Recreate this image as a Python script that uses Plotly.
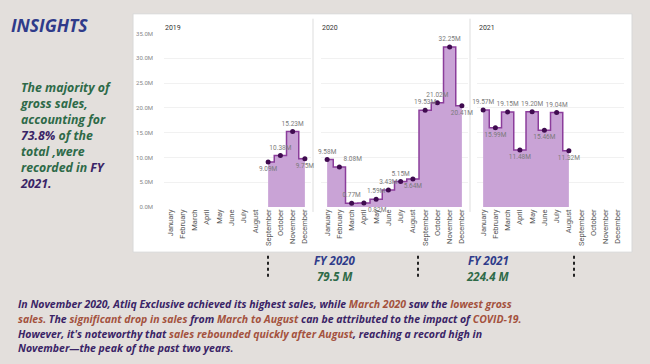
import plotly.graph_objects as go

months = ["January", "February", "March", "April", "May", "June", "July",
          "August", "September", "October", "November", "December"]

months_2019 = ["September", "October", "November", "December"]
sales_2019 = [9.09, 10.38, 15.23, 9.75]
pos_2019 = ["bottom center", "top center", "top center", "bottom center"]

months_2020 = months
sales_2020 = [9.58, 8.08, 0.77, 0.82, 1.59, 3.43, 5.15, 5.64, 19.53, 21.02, 32.25, 20.41]
pos_2020 = ["top center", "top right", "top center", "bottom right", "top center", "top center",
            "top center", "bottom center", "top center", "top center", "top center", "bottom center"]

months_2021 = months[:8]
sales_2021 = [19.57, 15.99, 19.15, 11.48, 19.20, 15.46, 19.04, 11.32]
pos_2021 = ["top center", "bottom center", "top center", "bottom center",
            "top center", "bottom center", "top center", "bottom center"]

years = ["2019", "2020", "2021"]
fy_labels = ["FY 2020", "FY 2021"]
fy_totals = ["79.5 M", "224.4 M"]

W, H = 650, 364
def px(x): return x / W
def py(y): return 1 - y / H

BG = "#e3dfdc"
NAVY = "#2f3b8a"
GREEN = "#2e6a48"
TXT_NAVY = "#3a2466"
RUST = "#a4523e"
FILL = "#c9a3d6"
LINE = "#8b3d9b"
MARK = "#3f0b4f"

fig = go.Figure()

series = [(months_2019, sales_2019, pos_2019, "x", "y"),
          (months_2020, sales_2020, pos_2020, "x2", "y2"),
          (months_2021, sales_2021, pos_2021, "x3", "y3")]
for mx, vals, pos, xa, ya in series:
    fig.add_trace(go.Scatter(
        x=mx, y=vals, xaxis=xa, yaxis=ya,
        mode="lines+markers+text",
        line=dict(shape="hvh", color=LINE, width=1.5),
        fill="tozeroy", fillcolor=FILL,
        marker=dict(size=5, color=MARK),
        text=[f"{v:.2f}M" for v in vals], textposition=pos,
        textfont=dict(size=6.5, color="#7a7a7a", family="Roboto"),
        cliponaxis=False, showlegend=False, hoverinfo="skip"))

ydom = [py(207), py(30)]
xdoms = [[px(164), px(311)], [px(321), px(468)], [px(477), px(624)]]

common_x = dict(type="category", categoryorder="array", categoryarray=months,
                range=[-0.5, 11.5], tickangle=-90, showgrid=False, zeroline=False,
                showline=False, ticks="",
                tickfont=dict(size=7.5, color="#555555", family="Roboto"))
common_y = dict(range=[0, 35], showgrid=True, gridcolor="#f1f1f1", gridwidth=1,
                zeroline=False, showline=False, dtick=5, domain=ydom)

layout_axes = {}
for i, dom in enumerate(xdoms):
    k = "" if i == 0 else str(i + 1)
    layout_axes["xaxis" + k] = dict(common_x, domain=dom, anchor="y" + k)
    ya = dict(common_y, anchor="x" + k)
    if i == 0:
        ya.update(tickformat=".1f", ticksuffix="M", ticklabelstandoff=10,
                  tickfont=dict(size=6, color="#888888", family="Roboto"))
    else:
        ya.update(showticklabels=False, matches="y")
    layout_axes["yaxis" + k] = ya

shapes = [
    dict(type="rect", xref="paper", yref="paper", x0=px(133), x1=px(632), y0=py(253), y1=py(10),
         fillcolor="white", line=dict(color="#d8d8d8", width=1), layer="below"),
    dict(type="line", xref="paper", yref="paper", x0=px(313), x1=px(313), y0=py(212), y1=py(15),
         line=dict(color="#dddddd", width=1), layer="below"),
    dict(type="line", xref="paper", yref="paper", x0=px(470), x1=px(470), y0=py(212), y1=py(15),
         line=dict(color="#dddddd", width=1), layer="below"),
]
for xd in [268, 418, 574]:
    shapes.append(dict(type="line", xref="paper", yref="paper", x0=px(xd), x1=px(xd),
                       y0=py(278), y1=py(256), line=dict(color="#222222", width=2, dash="dot")))

F = "Open Sans"
ann = []
ann.append(dict(x=px(9), y=py(21), xref="paper", yref="paper", xanchor="left", yanchor="middle",
                text="<b><i>INSIGHTS</i></b>", showarrow=False,
                font=dict(size=17.5, color=NAVY, family=F)))
for (t, xp) in zip(years, [163, 320, 477]):
    ann.append(dict(x=px(xp), y=py(24), xref="paper", yref="paper", xanchor="left", yanchor="middle",
                    text=t, showarrow=False, font=dict(size=7, color="#333333", family="Roboto")))

left_lines = [
    f"<span style='color:{GREEN}'>The majority of</span>",
    f"<span style='color:{GREEN}'>gross sales,</span>",
    f"<span style='color:{GREEN}'>accounting for</span>",
    f"<span style='color:{TXT_NAVY}'>73.8%</span><span style='color:{GREEN}'> of the</span>",
    f"<span style='color:{GREEN}'>total ,were</span>",
    f"<span style='color:{GREEN}'>recorded in </span><span style='color:{TXT_NAVY}'>FY</span>",
    f"<span style='color:{TXT_NAVY}'>2021.</span>",
]
ann.append(dict(x=px(18), y=py(134), xref="paper", yref="paper", xanchor="left",
                yanchor="middle", align="left",
                text="<br>".join(f"<b><i>{l}</i></b>" for l in left_lines), showarrow=False,
                font=dict(size=12.3, family=F)))

for lab, tot, xc in zip(fy_labels, fy_totals, [335, 488]):
    ann.append(dict(x=px(xc), y=py(262), xref="paper", yref="paper", xanchor="center", yanchor="middle",
                    text=f"<b><i>{lab}</i></b>", showarrow=False,
                    font=dict(size=11.5, color=NAVY, family=F)))
    ann.append(dict(x=px(xc), y=py(278), xref="paper", yref="paper", xanchor="center", yanchor="middle",
                    text=f"<b><i>{tot}</i></b>", showarrow=False,
                    font=dict(size=11.5, color=GREEN, family=F)))

def n(s): return f"<span style='color:{TXT_NAVY}'>{s}</span>"
def r(s): return f"<span style='color:{RUST}'>{s}</span>"
bottom_lines = [
    n("In November 2020, Atliq Exclusive achieved its highest sales, while ") + r("March 2020") + n(" saw the ") + r("lowest gross"),
    r("sales.") + n(" The ") + r("significant drop in sales") + n(" from ") + r("March to August") + n(" can be attributed to the impact of ") + r("COVID-19."),
    n("However, it's noteworthy that ") + r("sales rebounded quickly after August") + n(", reaching a record high in"),
    n("November\u2014the peak of the past two years."),
]
for i, l in enumerate(bottom_lines):
    ann.append(dict(x=px(16), y=py(306 + i * 15), xref="paper", yref="paper", xanchor="left",
                    yanchor="middle", text=f"<b><i>{l}</i></b>", showarrow=False,
                    font=dict(size=10.5, family=F)))

fig.update_layout(width=W, height=H, margin=dict(l=0, r=0, t=0, b=0),
                  paper_bgcolor=BG, plot_bgcolor="rgba(0,0,0,0)",
                  shapes=shapes, annotations=ann, **layout_axes)

fig.write_html("out.html", config={"displayModeBar": False},
               post_script="document.body.style.margin='0';document.body.style.background='%s';" % BG)
